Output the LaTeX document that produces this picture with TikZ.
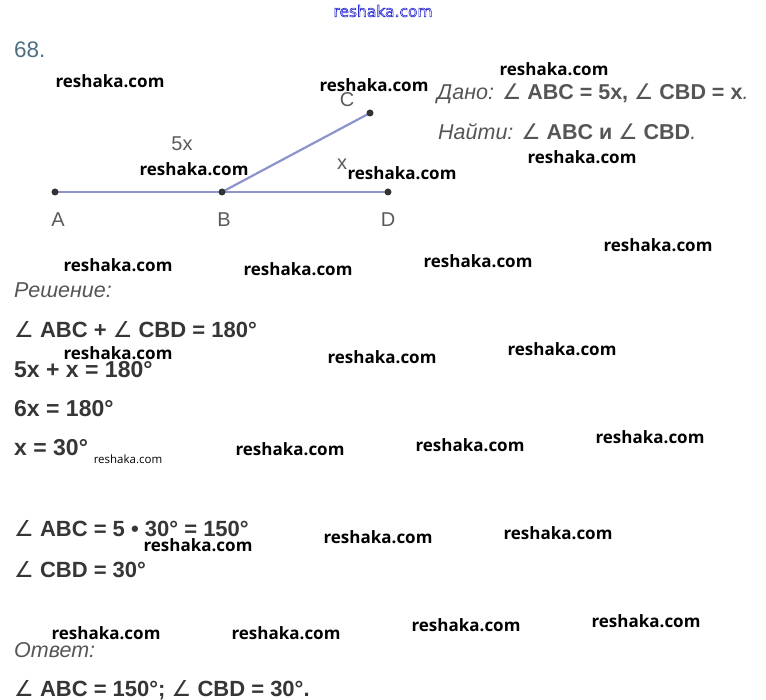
\documentclass[tikz,border=0pt]{standalone}
\usepackage{fontspec}
\setmainfont{Liberation Sans}
\newfontfamily\wmfont{Open Sans}
\newfontfamily\angfont{DejaVu Sans}
\definecolor{txt}{HTML}{363636}
\definecolor{txtl}{HTML}{555555}
\definecolor{numc}{HTML}{4E6F80}
\definecolor{linec}{HTML}{8E93CC}
\definecolor{dotc}{HTML}{333333}
\definecolor{lbl}{HTML}{5A5A5A}
\definecolor{topblue}{HTML}{2A2AD0}
\newcommand{\angl}{{\angfont\mdseries ∠}}
\newcommand{\outlined}[1]{\special{pdf:literal direct 1 Tr 0.6 w}#1\special{pdf:literal direct 0 Tr}}
\tikzset{
  bline/.style={anchor=base west, inner sep=0pt, text=txt, font=\fontsize{22}{22}\selectfont\bfseries},
  bbig/.style={bline, font=\fontsize{23}{23}\selectfont\bfseries},
  iline/.style={anchor=base west, inner sep=0pt, text=txtl, font=\fontsize{21.5}{21.5}\selectfont\itshape},
  wm/.style={inner sep=0pt, text=black, font=\wmfont\fontsize{17}{17}\selectfont\bfseries},
  wms/.style={inner sep=0pt, text=black, font=\wmfont\fontsize{11.5}{11.5}\selectfont},
  lab/.style={inner sep=0pt, text=lbl, font=\fontsize{20}{20}\selectfont},
  dot/.style={circle, fill=dotc, inner sep=0pt, minimum size=7pt},
  seg/.style={draw=linec, line width=2.2pt},
}
\begin{document}
\begin{tikzpicture}[x=1pt,y=-1pt]
\useasboundingbox (0,0) rectangle (766,700);
% top site mark
\node[inner sep=0pt, text=topblue, font=\angfont\fontsize{15.5}{15.5}\selectfont] (top) at (383,11) {\outlined{reshaka.com}};
% number
\node[anchor=base west, inner sep=0pt, text=numc, font=\fontsize{22.5}{22.5}\selectfont] (num) at (14,58) {68.};
% figure
\coordinate (A) at (55,192);
\coordinate (B) at (222,192);
\coordinate (D) at (388,192);
\coordinate (C) at (370,113);
\draw[seg] (A) -- (D);
\draw[seg] (B) -- (C);
\node[dot] (dA) at (A) {};
\node[dot] (dB) at (B) {};
\node[dot] (dC) at (C) {};
\node[dot] (dD) at (D) {};
\node[lab] (lA) at (58,220) {A};
\node[lab] (lB) at (224,220) {B};
\node[lab] (lD) at (388,220) {D};
\node[lab] (lC) at (347,100) {C};
\node[lab] (l5x) at (182,144) {5x};
\node[lab] (lx) at (342,164) {x};
% given / find
\node[iline] (given) at (437,100) {Дано: \textup{\bfseries\angl\ ABC = 5x, \angl\ CBD = x}.};
\node[iline] (find) at (438,140) {Найти: \textup{\bfseries\angl\ ABC и \angl\ CBD}.};
% solution
\node[iline] (sol) at (14,298) {Решение:};
\node[bline] (e1) at (14,338) {\angl\ ABC + \angl\ CBD = 180°};
\node[bbig] (e2) at (14,378) {5x + x = 180°};
\node[bbig] (e3) at (14,417) {6x = 180°};
\node[bbig] (e4) at (14,456) {x = 30°};
\node[bline] (e5) at (14,536) {\angl\ ABC = 5 • 30° = 150°};
\node[bline] (e6) at (14,577) {\angl\ CBD = 30°};
\node[iline] (ans) at (14,657) {Ответ:};
\node[bline] (e7) at (14,696) {\angl\ ABC = 150°; \angl\ CBD = 30°.};
% watermarks
\foreach \px/\py [count=\i] in {110/81, 374/85, 554/69, 194/169, 402/173, 582/157, 658/245,
  118/265, 298/269, 478/261, 118/353, 382/357, 562/349, 290/449, 470/445, 650/437,
  198/545, 378/537, 558/533, 106/633, 286/633, 466/625, 646/621}
  \node[wm] (w\i) at (\px,\py) {reshaka.com};
\node[wms] (wsmall) at (128,459) {reshaka.com};
\end{tikzpicture}
\end{document}
